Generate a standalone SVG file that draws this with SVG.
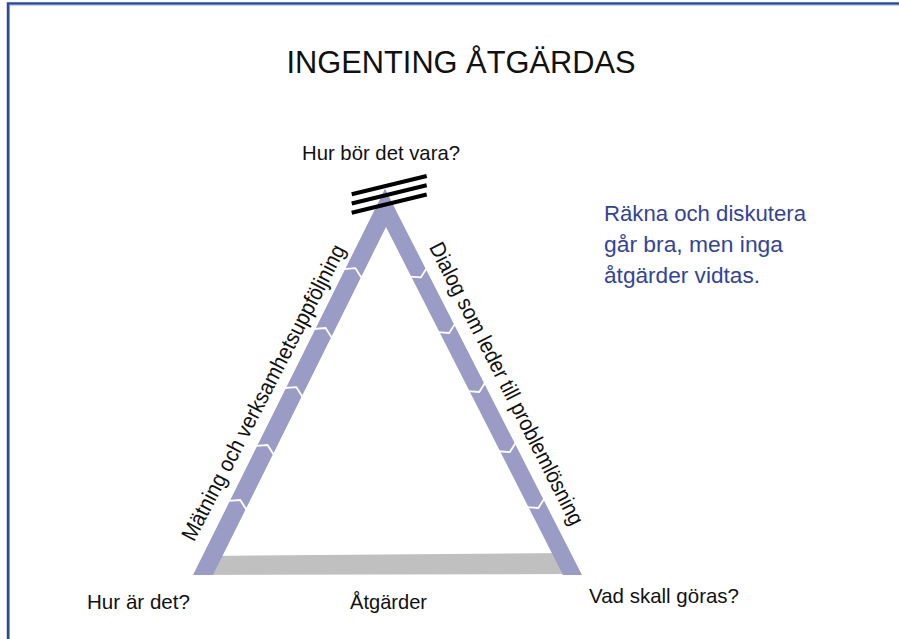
<svg xmlns="http://www.w3.org/2000/svg" width="899" height="639" viewBox="0 0 899 639">
<style>
.t{font-family:"Liberation Sans",Arial,sans-serif;fill:#111}
.b{font-family:"Liberation Sans",Arial,sans-serif;fill:#33449a}
.bar{fill:#9b9cc6}
.chev{fill:none;stroke:#fff;stroke-width:1.8;stroke-linejoin:miter}
.stripe{stroke:#000;stroke-width:4;stroke-linecap:butt}
</style>
<rect width="899" height="639" fill="#fff"/>
<path d="M8,639 V3.5 H899" fill="none" stroke="#2c4a98" stroke-width="2.5"/>
<path d="M9.5,639 V5 H899" fill="none" stroke="#6f8fd6" stroke-width="0.8"/>

<g id="title"><text class="t" x="461" y="73" font-size="32" text-anchor="middle" textLength="349" lengthAdjust="spacingAndGlyphs" style="font-weight:300">INGENTING ÅTGÄRDAS</text></g>

<g id="triangle">
  <polygon id="bottom-band" points="205,556 570,553 570,574 205,575" fill="#c0c0c0"/>
  <polygon id="left-bar" class="bar" points="193,575 213,575 386,227 395,209 385,189"/>
  <polygon id="right-bar" class="bar" points="582,575 563,575 386,227 376,209 385,189"/>
  <g id="left-chevrons" transform="translate(203,575) rotate(26.4)">
    <polyline class="chev" points="-10,-77.7 0,-83.7 10,-77.7"/>
    <polyline class="chev" points="-10,-139.1 0,-145.1 10,-139.1"/>
    <polyline class="chev" points="-10,-203.8 0,-209.8 10,-203.8"/>
    <polyline class="chev" points="-10,-269.7 0,-275.7 10,-269.7"/>
    <polyline class="chev" points="-10,-336.6 0,-342.6 10,-336.6"/>
  </g>
  <g id="right-chevrons" transform="translate(572.5,575) rotate(-27)">
    <polyline class="chev" points="-10,-81.2 0,-75.2 10,-81.2"/>
    <polyline class="chev" points="-10,-144 0,-138 10,-144"/>
    <polyline class="chev" points="-10,-211.4 0,-205.4 10,-211.4"/>
    <polyline class="chev" points="-10,-277.6 0,-271.6 10,-277.6"/>
    <polyline class="chev" points="-10,-340 0,-334 10,-340"/>
  </g>
  <g id="apex-stripes">
    <line class="stripe" x1="351.7" y1="194.3" x2="426.7" y2="176"/>
    <line class="stripe" x1="351.7" y1="203.5" x2="426.7" y2="185.3"/>
    <line class="stripe" x1="351.7" y1="212.7" x2="426.7" y2="194.5"/>
  </g>
</g>

<g id="labels">
  <text class="t" x="381" y="160" font-size="21" text-anchor="middle" textLength="158" lengthAdjust="spacingAndGlyphs">Hur bör det vara?</text>
  <text class="t" x="138.5" y="609" font-size="21" text-anchor="middle" textLength="103" lengthAdjust="spacingAndGlyphs">Hur är det?</text>
  <text class="t" x="388.5" y="609" font-size="21" text-anchor="middle" textLength="77" lengthAdjust="spacingAndGlyphs">Åtgärder</text>
  <text class="t" x="664" y="603" font-size="21" text-anchor="middle" textLength="150" lengthAdjust="spacingAndGlyphs">Vad skall göras?</text>
  <text class="t" transform="translate(270,396) rotate(-62.6)" font-size="22" text-anchor="middle" textLength="330" lengthAdjust="spacingAndGlyphs">Mätning och verksamhetsuppföljning</text>
  <text class="t" transform="translate(500,387) rotate(63)" font-size="22" text-anchor="middle" textLength="314" lengthAdjust="spacingAndGlyphs">Dialog som leder till problemlösning</text>
</g>

<g id="note">
  <text class="b" x="604" y="221" font-size="22" textLength="202" lengthAdjust="spacingAndGlyphs">Räkna och diskutera</text>
  <text class="b" x="604" y="252" font-size="22" textLength="179" lengthAdjust="spacingAndGlyphs">går bra, men inga</text>
  <text class="b" x="604" y="283" font-size="22" textLength="156" lengthAdjust="spacingAndGlyphs">åtgärder vidtas.</text>
</g>
</svg>
